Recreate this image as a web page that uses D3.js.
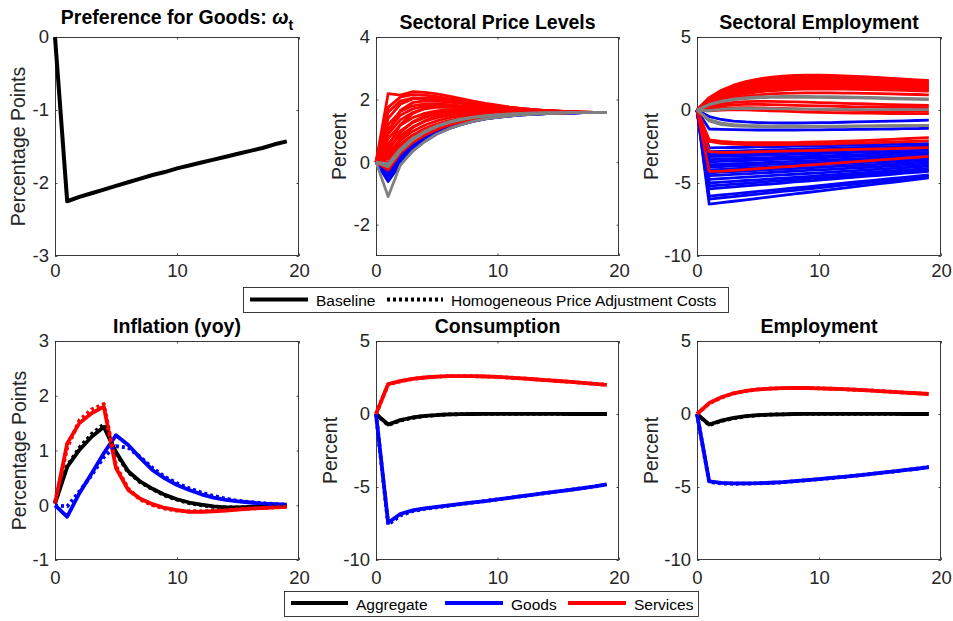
<!DOCTYPE html>
<html>
<head>
<meta charset="utf-8">
<script src="https://cdn.jsdelivr.net/npm/d3@7/dist/d3.min.js"></script>
<style>
  body { margin: 0; background: #fff; }
  svg { display: block; }
  text { font-family: "Liberation Sans", Arial, Helvetica, sans-serif; }
</style>
</head>
<body>
<svg id="fig" width="953" height="621"></svg>
<script>
// ---------------- data ----------------
const horizon = [0,1,2,3,4,5,6,7,8,9,10,11,12,13,14,15,16,17,18,19];

const xTicks = [0, 10, 20];
const titles = ["Preference for Goods: ", "Sectoral Price Levels", "Sectoral Employment",
                "Inflation (yoy)", "Consumption", "Employment"];
const yLabels = ["Percentage Points", "Percent", "Percent", "Percentage Points", "Percent", "Percent"];
const yTicksPref = [-3, -2, -1, 0];
const yTicksPrice = [-2, 0, 2, 4];
const yTicksEmp = [-10, -5, 0, 5];
const yTicksInfl = [-1, 0, 1, 2, 3];

const legendStyles = ["Baseline", "Homogeneous Price Adjustment Costs"];
const legendGroups = ["Aggregate", "Goods", "Services"];

// preference shock for goods
const omegaGoods = [0,-2.25,-2.19,-2.14,-2.09,-2.04,-1.99,-1.94,-1.89,-1.85,-1.80,-1.76,-1.72,-1.68,-1.64,-1.60,-1.56,-1.52,-1.47,-1.43];

// sectoral price levels
const priceServices = [
  [0,2.19,2.14,2.25,2.23,2.18,2.11,2.03,1.95,1.88,1.82,1.76,1.71,1.68,1.65,1.63,1.61,1.60,1.59,1.58],
  [0,1.75,2.08,2.16,2.14,2.09,2.03,1.97,1.91,1.85,1.80,1.75,1.71,1.68,1.65,1.63,1.61,1.60,1.59,1.58],
  [0,1.60,1.95,2.05,2.04,2.00,1.95,1.90,1.85,1.80,1.76,1.72,1.69,1.66,1.64,1.62,1.61,1.60,1.59,1.58],
  [0,1.40,1.85,2.02,2.05,2.03,1.99,1.94,1.89,1.84,1.79,1.75,1.71,1.68,1.65,1.63,1.61,1.60,1.59,1.58],
  [0,0.95,1.65,1.90,1.96,1.95,1.92,1.88,1.84,1.80,1.76,1.72,1.69,1.66,1.64,1.62,1.61,1.60,1.59,1.58],
  [0,1.20,1.62,1.80,1.86,1.86,1.84,1.80,1.76,1.72,1.69,1.66,1.64,1.62,1.61,1.60,1.59,1.59,1.58,1.58],
  [0,1.05,1.50,1.70,1.79,1.81,1.80,1.78,1.75,1.72,1.69,1.66,1.64,1.62,1.61,1.60,1.59,1.59,1.58,1.58],
  [0,0.50,1.20,1.55,1.72,1.79,1.80,1.78,1.75,1.72,1.69,1.66,1.64,1.62,1.61,1.60,1.59,1.59,1.58,1.58],
  [0,0.90,1.35,1.58,1.70,1.75,1.76,1.75,1.73,1.71,1.68,1.66,1.64,1.62,1.61,1.60,1.59,1.59,1.58,1.58],
  [0,0.75,1.18,1.42,1.56,1.64,1.68,1.69,1.69,1.68,1.66,1.65,1.63,1.62,1.61,1.60,1.59,1.59,1.58,1.58],
  [0,0.35,0.95,1.28,1.48,1.59,1.65,1.67,1.67,1.66,1.65,1.63,1.62,1.61,1.60,1.59,1.59,1.58,1.58,1.58],
  [0,0.60,1.00,1.26,1.42,1.53,1.59,1.62,1.64,1.64,1.63,1.62,1.61,1.61,1.60,1.59,1.59,1.58,1.58,1.58],
  [0,0.15,0.75,1.10,1.32,1.46,1.54,1.58,1.60,1.61,1.61,1.60,1.60,1.59,1.59,1.58,1.58,1.58,1.58,1.58],
  [0,0.45,0.85,1.12,1.30,1.42,1.50,1.55,1.58,1.59,1.60,1.60,1.60,1.59,1.59,1.59,1.58,1.58,1.58,1.58],
  [0,0.30,0.70,0.98,1.18,1.32,1.42,1.48,1.52,1.55,1.57,1.58,1.58,1.58,1.58,1.58,1.58,1.58,1.58,1.58],
  [0,0.20,0.58,0.86,1.07,1.22,1.33,1.41,1.47,1.51,1.54,1.56,1.57,1.57,1.58,1.58,1.58,1.58,1.58,1.58],
  [0,0.10,0.48,0.77,0.99,1.15,1.27,1.36,1.43,1.48,1.51,1.54,1.55,1.56,1.57,1.57,1.58,1.58,1.58,1.58],
  [0,0.00,0.40,0.70,0.93,1.10,1.23,1.33,1.40,1.46,1.50,1.53,1.55,1.56,1.57,1.57,1.58,1.58,1.58,1.58],
  [0,-0.10,0.33,0.64,0.88,1.06,1.20,1.31,1.39,1.45,1.49,1.52,1.54,1.56,1.57,1.57,1.58,1.58,1.58,1.58],
  [0,-0.25,0.28,0.62,0.86,1.04,1.18,1.29,1.37,1.43,1.48,1.51,1.54,1.55,1.56,1.57,1.58,1.58,1.58,1.58]
];
const priceGoods = [
  [0,-0.62,-0.07,0.35,0.66,0.90,1.07,1.20,1.30,1.38,1.43,1.47,1.51,1.53,1.55,1.56,1.57,1.58,1.58,1.59],
  [0,-0.55,-0.02,0.39,0.69,0.92,1.09,1.22,1.31,1.38,1.44,1.48,1.51,1.53,1.55,1.56,1.57,1.58,1.58,1.59],
  [0,-0.50,0.02,0.42,0.71,0.94,1.10,1.23,1.32,1.39,1.44,1.48,1.51,1.53,1.55,1.56,1.57,1.58,1.58,1.59],
  [0,-0.45,0.07,0.46,0.75,0.97,1.13,1.25,1.34,1.40,1.45,1.49,1.52,1.54,1.55,1.56,1.57,1.58,1.58,1.59],
  [0,-0.42,0.11,0.49,0.78,0.99,1.15,1.27,1.36,1.42,1.47,1.50,1.53,1.55,1.56,1.57,1.58,1.58,1.59,1.59],
  [0,-0.35,0.16,0.53,0.81,1.02,1.17,1.28,1.36,1.43,1.47,1.50,1.53,1.55,1.56,1.57,1.58,1.58,1.59,1.59],
  [0,-0.28,0.21,0.57,0.84,1.04,1.18,1.29,1.37,1.43,1.48,1.51,1.53,1.55,1.56,1.57,1.58,1.58,1.59,1.59],
  [0,-0.20,0.29,0.64,0.90,1.09,1.23,1.33,1.40,1.45,1.49,1.52,1.54,1.56,1.57,1.58,1.58,1.59,1.59,1.59]
];
const priceOther = [
  [0,-1.10,-0.10,0.35,0.66,0.90,1.07,1.20,1.30,1.38,1.43,1.47,1.51,1.53,1.55,1.56,1.57,1.58,1.58,1.59],
  [0,-0.15,0.35,0.70,0.95,1.13,1.26,1.35,1.42,1.47,1.50,1.53,1.55,1.56,1.57,1.58,1.58,1.59,1.59,1.59],
  [0,-0.05,0.42,0.76,0.99,1.16,1.29,1.38,1.44,1.49,1.52,1.54,1.56,1.57,1.58,1.58,1.59,1.59,1.59,1.59]
];

// sectoral employment
const sectorEmpServices = [
  [0,0.85,1.35,1.70,1.95,2.12,2.24,2.32,2.37,2.39,2.39,2.37,2.34,2.30,2.26,2.22,2.17,2.12,2.07,2.02],
  [0,0.80,1.28,1.62,1.86,2.03,2.15,2.23,2.28,2.30,2.30,2.28,2.25,2.21,2.17,2.13,2.08,2.03,1.98,1.93],
  [0,0.76,1.21,1.54,1.77,1.94,2.05,2.13,2.18,2.20,2.20,2.18,2.15,2.11,2.07,2.03,1.98,1.94,1.89,1.85],
  [0,0.72,1.15,1.46,1.68,1.84,1.95,2.03,2.07,2.09,2.09,2.07,2.04,2.01,1.97,1.93,1.89,1.85,1.81,1.77],
  [0,0.68,1.09,1.38,1.59,1.74,1.85,1.92,1.96,1.98,1.98,1.96,1.94,1.91,1.87,1.84,1.80,1.76,1.72,1.68],
  [0,0.64,1.02,1.30,1.50,1.64,1.74,1.81,1.85,1.87,1.87,1.86,1.84,1.81,1.78,1.75,1.71,1.68,1.64,1.60],
  [0,0.60,0.96,1.22,1.41,1.54,1.64,1.70,1.74,1.76,1.77,1.76,1.74,1.72,1.69,1.66,1.63,1.60,1.57,1.53],
  [0,0.56,0.90,1.14,1.32,1.44,1.53,1.59,1.63,1.65,1.66,1.65,1.64,1.62,1.59,1.57,1.54,1.51,1.48,1.45],
  [0,0.52,0.83,1.06,1.22,1.34,1.42,1.48,1.52,1.54,1.55,1.54,1.53,1.51,1.49,1.47,1.45,1.42,1.40,1.37],
  [0,0.48,0.77,0.98,1.13,1.24,1.32,1.37,1.41,1.43,1.44,1.44,1.43,1.41,1.40,1.38,1.36,1.34,1.32,1.30],
  [0,0.42,0.66,0.83,0.95,1.04,1.10,1.14,1.16,1.17,1.17,1.17,1.16,1.15,1.14,1.12,1.10,1.08,1.06,1.04],
  [0,0.25,0.42,0.52,0.57,0.59,0.59,0.58,0.56,0.54,0.51,0.49,0.46,0.44,0.41,0.39,0.37,0.35,0.33,0.31],
  [0,0.15,0.28,0.35,0.38,0.38,0.37,0.35,0.32,0.30,0.28,0.26,0.24,0.22,0.21,0.20,0.19,0.18,0.17,0.16],
  [0,0.05,0.12,0.15,0.16,0.15,0.13,0.11,0.08,0.06,0.04,0.02,0.00,-0.02,-0.04,-0.05,-0.06,-0.07,-0.08,-0.09],
  [0,-0.05,0.00,0.02,0.01,-0.02,-0.05,-0.08,-0.11,-0.14,-0.16,-0.18,-0.20,-0.21,-0.22,-0.23,-0.24,-0.24,-0.25,-0.25],
  [0,-2.05,-2.15,-2.20,-2.23,-2.24,-2.24,-2.24,-2.23,-2.21,-2.19,-2.17,-2.14,-2.11,-2.08,-2.04,-2.01,-1.97,-1.93,-1.89],
  [0,-2.15,-2.28,-2.34,-2.37,-2.38,-2.38,-2.37,-2.36,-2.35,-2.33,-2.31,-2.29,-2.27,-2.25,-2.22,-2.20,-2.17,-2.14,-2.11],
  [0,-2.85,-2.90,-2.90,-2.88,-2.86,-2.84,-2.82,-2.80,-2.78,-2.76,-2.74,-2.72,-2.70,-2.68,-2.66,-2.64,-2.62,-2.60,-2.58],
  [0,-4.20,-4.18,-4.13,-4.08,-4.02,-3.96,-3.90,-3.84,-3.78,-3.72,-3.66,-3.60,-3.54,-3.48,-3.42,-3.36,-3.30,-3.24,-3.18]
];
const sectorEmpGoods = [
  [0,-0.45,-0.65,-0.76,-0.82,-0.86,-0.88,-0.89,-0.89,-0.88,-0.87,-0.86,-0.84,-0.82,-0.80,-0.78,-0.76,-0.74,-0.72,-0.70],
  [0,-1.30,-1.33,-1.35,-1.36,-1.37,-1.37,-1.37,-1.37,-1.36,-1.36,-1.35,-1.34,-1.33,-1.32,-1.31,-1.30,-1.28,-1.27,-1.25],
  [0,-2.60,-2.58,-2.57,-2.55,-2.53,-2.52,-2.50,-2.48,-2.47,-2.45,-2.43,-2.42,-2.40,-2.38,-2.37,-2.35,-2.33,-2.32,-2.30],
  [0,-2.85,-2.83,-2.81,-2.78,-2.76,-2.74,-2.72,-2.69,-2.67,-2.65,-2.63,-2.61,-2.58,-2.56,-2.54,-2.52,-2.49,-2.47,-2.45],
  [0,-3.05,-3.03,-3.00,-2.98,-2.95,-2.93,-2.90,-2.88,-2.85,-2.83,-2.80,-2.78,-2.75,-2.73,-2.70,-2.68,-2.65,-2.63,-2.60],
  [0,-3.20,-3.18,-3.15,-3.13,-3.10,-3.08,-3.05,-3.03,-3.00,-2.98,-2.95,-2.93,-2.90,-2.88,-2.85,-2.83,-2.80,-2.78,-2.75],
  [0,-3.40,-3.37,-3.34,-3.32,-3.29,-3.26,-3.23,-3.21,-3.18,-3.15,-3.12,-3.09,-3.07,-3.04,-3.01,-2.98,-2.96,-2.93,-2.90],
  [0,-3.55,-3.52,-3.49,-3.46,-3.43,-3.40,-3.37,-3.34,-3.31,-3.28,-3.24,-3.21,-3.18,-3.15,-3.12,-3.09,-3.06,-3.03,-3.00],
  [0,-3.75,-3.72,-3.68,-3.65,-3.62,-3.58,-3.55,-3.52,-3.48,-3.45,-3.42,-3.38,-3.35,-3.32,-3.28,-3.25,-3.22,-3.18,-3.15],
  [0,-3.90,-3.87,-3.83,-3.80,-3.77,-3.73,-3.70,-3.67,-3.63,-3.60,-3.57,-3.53,-3.50,-3.47,-3.43,-3.40,-3.37,-3.33,-3.30],
  [0,-4.10,-4.06,-4.02,-3.98,-3.94,-3.91,-3.87,-3.83,-3.79,-3.75,-3.71,-3.67,-3.63,-3.59,-3.56,-3.52,-3.48,-3.44,-3.40],
  [0,-4.30,-4.26,-4.22,-4.18,-4.13,-4.09,-4.05,-4.01,-3.97,-3.93,-3.88,-3.84,-3.80,-3.76,-3.72,-3.68,-3.63,-3.59,-3.55],
  [0,-4.50,-4.46,-4.41,-4.37,-4.32,-4.28,-4.23,-4.19,-4.14,-4.10,-4.06,-4.01,-3.97,-3.92,-3.88,-3.83,-3.79,-3.74,-3.70],
  [0,-4.75,-4.70,-4.65,-4.60,-4.55,-4.50,-4.45,-4.40,-4.35,-4.30,-4.25,-4.20,-4.15,-4.10,-4.05,-4.00,-3.95,-3.90,-3.85],
  [0,-5.00,-4.94,-4.89,-4.83,-4.78,-4.72,-4.67,-4.61,-4.56,-4.50,-4.44,-4.39,-4.33,-4.28,-4.22,-4.17,-4.11,-4.06,-4.00],
  [0,-5.20,-5.14,-5.08,-5.02,-4.96,-4.89,-4.83,-4.77,-4.71,-4.65,-4.59,-4.53,-4.47,-4.41,-4.34,-4.28,-4.22,-4.16,-4.10],
  [0,-5.40,-5.33,-5.27,-5.20,-5.13,-5.07,-5.00,-4.93,-4.87,-4.80,-4.73,-4.67,-4.60,-4.53,-4.47,-4.40,-4.33,-4.27,-4.20],
  [0,-5.90,-5.82,-5.74,-5.66,-5.58,-5.50,-5.42,-5.34,-5.26,-5.18,-5.09,-5.01,-4.93,-4.85,-4.77,-4.69,-4.61,-4.53,-4.45],
  [0,-6.10,-6.01,-5.93,-5.84,-5.76,-5.67,-5.58,-5.50,-5.41,-5.33,-5.24,-5.15,-5.07,-4.98,-4.90,-4.81,-4.72,-4.64,-4.55],
  [0,-6.45,-6.35,-6.25,-6.15,-6.05,-5.95,-5.85,-5.75,-5.65,-5.55,-5.45,-5.35,-5.25,-5.15,-5.05,-4.95,-4.85,-4.75,-4.65]
];
const sectorEmpOther = [
  [0,0.38,0.60,0.74,0.83,0.89,0.92,0.93,0.93,0.93,0.92,0.91,0.89,0.88,0.86,0.84,0.82,0.80,0.78,0.76],
  [0,0.36,0.57,0.70,0.78,0.83,0.86,0.87,0.87,0.87,0.86,0.85,0.84,0.83,0.81,0.79,0.77,0.75,0.73,0.71],
  [0,-0.05,0.05,0.10,0.11,0.10,0.09,0.08,0.07,0.06,0.05,0.05,0.04,0.04,0.03,0.03,0.03,0.02,0.02,0.02],
  [0,-0.75,-1.00,-1.08,-1.12,-1.14,-1.15,-1.15,-1.15,-1.15,-1.14,-1.14,-1.13,-1.12,-1.11,-1.10,-1.09,-1.08,-1.07,-1.06],
  [0,-0.65,-0.90,-1.00,-1.05,-1.08,-1.10,-1.11,-1.11,-1.11,-1.11,-1.10,-1.10,-1.09,-1.09,-1.08,-1.08,-1.07,-1.07,-1.06]
];

// inflation (yoy), baseline and homogeneous adjustment costs
const inflAgg = [0.03,0.70,1.01,1.25,1.43,0.97,0.62,0.43,0.30,0.19,0.11,0.05,0.01,-0.02,-0.04,-0.04,-0.03,-0.03,-0.02,-0.01];
const inflGoods = [0.00,-0.21,0.22,0.58,0.95,1.28,1.10,0.86,0.64,0.49,0.37,0.28,0.20,0.14,0.10,0.07,0.05,0.03,0.02,0.01];
const inflServices = [0.03,1.13,1.50,1.68,1.80,0.68,0.28,0.12,0.02,-0.05,-0.09,-0.12,-0.12,-0.11,-0.10,-0.08,-0.06,-0.05,-0.04,-0.03];
const inflAggHom = [0.05,0.72,1.05,1.30,1.48,0.95,0.60,0.42,0.29,0.18,0.10,0.04,0.00,-0.03,-0.04,-0.04,-0.04,-0.03,-0.02,-0.02];
const inflGoodsHom = [0.00,-0.02,0.25,0.55,0.88,1.08,1.05,0.88,0.68,0.52,0.40,0.31,0.23,0.17,0.12,0.08,0.06,0.04,0.02,0.01];
const inflServicesHom = [0.05,1.05,1.55,1.75,1.85,0.72,0.30,0.10,0.00,-0.06,-0.10,-0.11,-0.11,-0.10,-0.09,-0.07,-0.06,-0.05,-0.04,-0.03];

// consumption
const consAgg = [0,-0.72,-0.42,-0.24,-0.13,-0.07,-0.03,-0.01,0,0.01,0.01,0.01,0.01,0.01,0.01,0.01,0,0,0,0];
const consGoods = [0,-7.45,-6.85,-6.60,-6.46,-6.36,-6.26,-6.16,-6.06,-5.96,-5.85,-5.74,-5.63,-5.52,-5.41,-5.30,-5.19,-5.08,-4.96,-4.82];
const consServices = [0,2.05,2.25,2.40,2.50,2.56,2.59,2.60,2.59,2.57,2.54,2.49,2.44,2.38,2.32,2.26,2.20,2.13,2.06,1.99];
const consAggHom = [0,-0.76,-0.45,-0.26,-0.14,-0.07,-0.03,-0.01,0,0.01,0.01,0.01,0.01,0.01,0.01,0.01,0,0,0,0];
const consGoodsHom = [0,-7.58,-6.95,-6.66,-6.50,-6.39,-6.28,-6.17,-6.07,-5.96,-5.85,-5.74,-5.63,-5.52,-5.41,-5.30,-5.19,-5.08,-4.96,-4.82];
const consServicesHom = [0,2.03,2.24,2.40,2.50,2.56,2.59,2.60,2.59,2.57,2.54,2.49,2.44,2.38,2.32,2.26,2.20,2.13,2.06,1.99];

// employment
const emplAgg = [0,-0.72,-0.45,-0.27,-0.15,-0.08,-0.04,-0.02,0,0.01,0.01,0.01,0.01,0.01,0.01,0.01,0.01,0,0,0];
const emplGoods = [0,-4.62,-4.72,-4.75,-4.75,-4.74,-4.71,-4.67,-4.60,-4.53,-4.46,-4.38,-4.30,-4.22,-4.13,-4.04,-3.95,-3.85,-3.75,-3.64];
const emplServices = [0,0.75,1.15,1.42,1.58,1.68,1.74,1.77,1.78,1.78,1.76,1.73,1.70,1.66,1.62,1.57,1.52,1.47,1.42,1.37];
const emplAggHom = [0,-0.76,-0.48,-0.29,-0.16,-0.09,-0.04,-0.02,0,0.01,0.01,0.01,0.01,0.01,0.01,0.01,0.01,0,0,0];
const emplGoodsHom = [0,-4.66,-4.76,-4.78,-4.77,-4.75,-4.72,-4.68,-4.61,-4.54,-4.47,-4.39,-4.31,-4.22,-4.13,-4.04,-3.95,-3.85,-3.75,-3.64];
const emplServicesHom = [0,0.72,1.13,1.41,1.58,1.68,1.74,1.77,1.78,1.78,1.76,1.73,1.70,1.66,1.62,1.57,1.52,1.47,1.42,1.37];

// ---------------- drawing ----------------
const svg = d3.select("#fig");
const AXIS_COLOR = "#262626";
const COLORS = { agg: "#000000", goods: "#0000ff", services: "#ff0000", other: "#808080" };
const TICK_FONT = 18.5, LABEL_FONT = 19.5, TITLE_FONT = 19.5, LEGEND_FONT = 15.5;
const SECTOR_WIDTH = 2.8, AGG_WIDTH = 3.8;
const plainNumber = d => String(d);

function makeAxes(box, yDomain, yTicks, title, ylabel, ylabelX, xPad) {
  const g = svg.append("g");
  const x = d3.scaleLinear().domain([0, 20]).range([box.left, box.left + box.w]);
  const y = d3.scaleLinear().domain(yDomain).range([box.top + box.h, box.top]);
  const tl = 2.5;

  const styleAxis = sel => {
    sel.select(".domain").remove();
    sel.selectAll(".tick line").attr("stroke", AXIS_COLOR).attr("stroke-width", 0.8);
    sel.selectAll(".tick text").attr("fill", AXIS_COLOR).attr("font-size", TICK_FONT)
       .attr("font-family", '"Liberation Sans", Arial, sans-serif');
  };

  g.append("g").attr("transform", `translate(${box.left},0)`)
    .call(d3.axisLeft(y).tickValues(yTicks).tickSizeInner(-tl).tickSizeOuter(0).tickPadding(6).tickFormat(plainNumber))
    .call(styleAxis);
  g.append("g").attr("transform", `translate(${box.left + box.w},0)`)
    .call(d3.axisRight(y).tickValues(yTicks).tickSizeInner(-tl).tickSizeOuter(0).tickFormat(""))
    .call(styleAxis);
  g.append("g").attr("transform", `translate(0,${box.top + box.h})`)
    .call(d3.axisBottom(x).tickValues(xTicks).tickSizeInner(-tl).tickSizeOuter(0).tickPadding(xPad).tickFormat(plainNumber))
    .call(styleAxis);
  g.append("g").attr("transform", `translate(0,${box.top})`)
    .call(d3.axisTop(x).tickValues(xTicks).tickSizeInner(-tl).tickSizeOuter(0).tickFormat(""))
    .call(styleAxis);

  g.append("rect")
    .attr("x", box.left + 0.5).attr("y", box.top + 0.5)
    .attr("width", box.w - 1).attr("height", box.h - 1)
    .attr("fill", "none").attr("stroke", AXIS_COLOR).attr("stroke-width", 0.9);

  // y label
  g.append("text")
    .attr("transform", `translate(${ylabelX},${box.top + box.h / 2}) rotate(-90)`)
    .attr("text-anchor", "middle")
    .attr("font-size", LABEL_FONT).attr("fill", AXIS_COLOR)
    .text(ylabel);

  // title
  const t = g.append("text")
    .attr("x", box.left + box.w / 2).attr("y", box.top - 8.5)
    .attr("text-anchor", "middle")
    .attr("font-size", TITLE_FONT).attr("font-weight", "bold").attr("fill", "#000");
  t.text(title);

  const lines = g.append("g");
  return { g, x, y, t, lines };
}

function drawSeries(ax, values, color, width, dashed) {
  const line = d3.line().x((d, i) => ax.x(horizon[i])).y(d => ax.y(d));
  const p = ax.lines.append("path")
    .attr("d", line(values))
    .attr("fill", "none")
    .attr("stroke", color)
    .attr("stroke-width", width)
    .attr("stroke-linejoin", "round");
  if (dashed) p.attr("stroke-dasharray", "3,3");
  return p;
}

const boxes = [
  { left: 55,  top: 37,  w: 244, h: 219 },
  { left: 376, top: 37,  w: 243, h: 219 },
  { left: 697, top: 37,  w: 244, h: 219 },
  { left: 55,  top: 341, w: 244, h: 219 },
  { left: 376, top: 341, w: 243, h: 219 },
  { left: 697, top: 341, w: 244, h: 219 }
];

// Panel 1: preference for goods
const a1 = makeAxes(boxes[0], [-3, 0], yTicksPref, titles[0], yLabels[0], 25, 8);
a1.t.attr("y", 23.5);
a1.t.append("tspan").attr("font-style", "italic").text("\u03c9");
a1.t.append("tspan").attr("font-size", 14).attr("dy", 6).text("t");
drawSeries(a1, omegaGoods, COLORS.agg, 4);

// Panel 2: sectoral price levels
const a2 = makeAxes(boxes[1], [-3, 4], yTicksPrice, titles[1], yLabels[1], 346, 8);
priceGoods.forEach(s => drawSeries(a2, s, COLORS.goods, SECTOR_WIDTH));
priceServices.forEach(s => drawSeries(a2, s, COLORS.services, SECTOR_WIDTH));
priceOther.forEach(s => drawSeries(a2, s, COLORS.other, SECTOR_WIDTH));

// Panel 3: sectoral employment
const a3 = makeAxes(boxes[2], [-10, 5], yTicksEmp, titles[2], yLabels[2], 658, 8);
sectorEmpGoods.forEach(s => drawSeries(a3, s, COLORS.goods, SECTOR_WIDTH));
sectorEmpServices.forEach(s => drawSeries(a3, s, COLORS.services, SECTOR_WIDTH));
sectorEmpOther.forEach(s => drawSeries(a3, s, COLORS.other, SECTOR_WIDTH));

// Panels 4-6: aggregates, solid = baseline, dotted = homogeneous costs
function drawTriple(ax, agg, goods, services, aggH, goodsH, servicesH) {
  drawSeries(ax, agg, COLORS.agg, AGG_WIDTH);
  drawSeries(ax, goods, COLORS.goods, AGG_WIDTH);
  drawSeries(ax, services, COLORS.services, AGG_WIDTH);
  drawSeries(ax, aggH, COLORS.agg, AGG_WIDTH, true);
  drawSeries(ax, goodsH, COLORS.goods, AGG_WIDTH, true);
  drawSeries(ax, servicesH, COLORS.services, AGG_WIDTH, true);
}
const a4 = makeAxes(boxes[3], [-1, 3], yTicksInfl, titles[3], yLabels[3], 26, 11);
drawTriple(a4, inflAgg, inflGoods, inflServices, inflAggHom, inflGoodsHom, inflServicesHom);
const a5 = makeAxes(boxes[4], [-10, 5], yTicksEmp, titles[4], yLabels[4], 337, 11);
drawTriple(a5, consAgg, consGoods, consServices, consAggHom, consGoodsHom, consServicesHom);
const a6 = makeAxes(boxes[5], [-10, 5], yTicksEmp, titles[5], yLabels[5], 658, 11);
drawTriple(a6, emplAgg, emplGoods, emplServices, emplAggHom, emplGoodsHom, emplServicesHom);

// ---------------- legends ----------------
function legendBox(x, y, w, h) {
  svg.append("rect").attr("x", x + 0.5).attr("y", y + 0.5).attr("width", w).attr("height", h)
    .attr("fill", "#fff").attr("stroke", AXIS_COLOR).attr("stroke-width", 0.9);
}
function legendItem(x0, x1, yMid, color, dashed, label) {
  const l = svg.append("line").attr("x1", x0).attr("x2", x1).attr("y1", yMid).attr("y2", yMid)
    .attr("stroke", color).attr("stroke-width", AGG_WIDTH);
  if (dashed) l.attr("stroke-dasharray", "3,3");
  svg.append("text").attr("x", x1 + 8).attr("y", yMid + 6.5)
    .attr("font-size", LEGEND_FONT).attr("fill", "#000").text(label);
}

legendBox(243, 287, 485, 25);
legendItem(250, 308, 299.5, COLORS.agg, false, legendStyles[0]);
legendItem(387, 443, 299.5, COLORS.agg, true, legendStyles[1]);

legendBox(284, 591, 414, 25);
legendItem(291, 348, 603, COLORS.agg, false, legendGroups[0]);
legendItem(445, 503, 603, COLORS.goods, false, legendGroups[1]);
legendItem(568, 626, 603, COLORS.services, false, legendGroups[2]);
</script>
</body>
</html>
